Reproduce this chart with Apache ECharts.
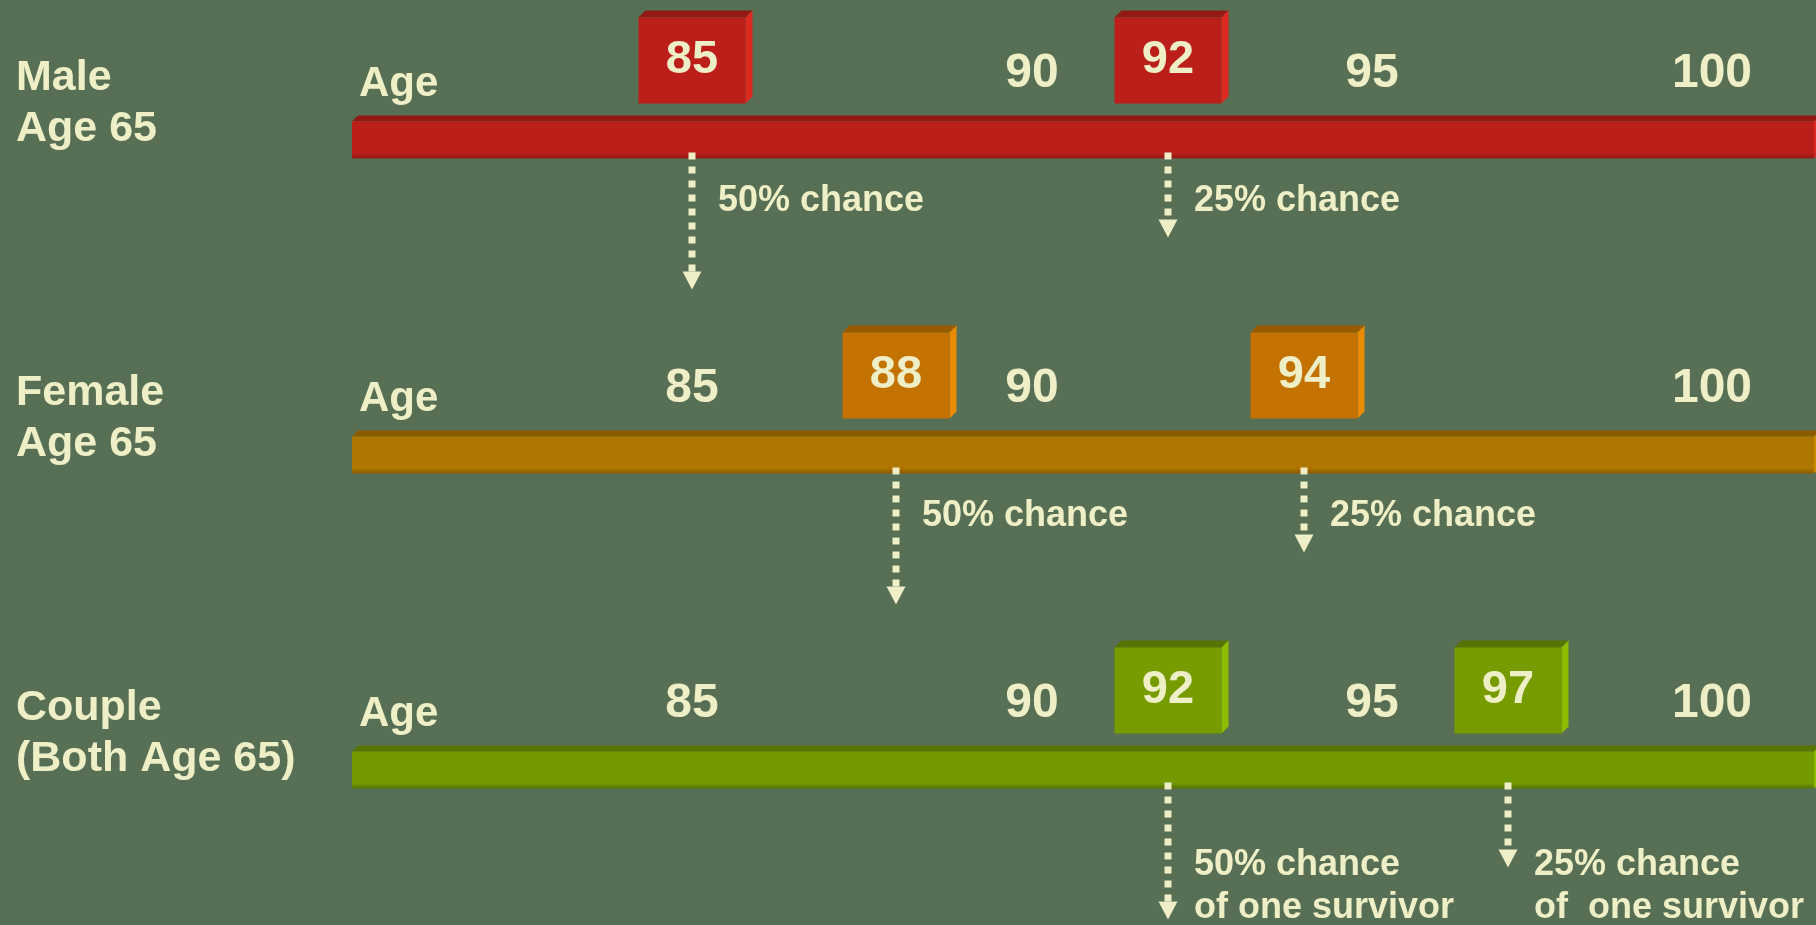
<!DOCTYPE html>
<html>
<head>
<meta charset="utf-8">
<title>Life expectancy at age 65</title>
<script src="https://cdn.jsdelivr.net/npm/echarts@6/dist/echarts.min.js"></script>
<style>
  html, body { margin: 0; padding: 0; background: #576f55; }
  #chart { width: 1816px; height: 925px; }
</style>
</head>
<body>
<div id="chart"></div>
<script>
// Ages a 65-year-old can expect to reach, with 50% and 25% probability
const rowLabels = ['Male\nAge 65', 'Female\nAge 65', 'Couple\n(Both Age 65)'];
const timelineSpan = [80, 101.5];

// age labels printed above each timeline
const maleTicks = [90, 95, 100];
const femaleTicks = [85, 90, 100];
const coupleTicks = [85, 90, 95, 100];

// 50% (median) and 25% survival ages per row
const medianAge = [85, 88, 92];
const quartileAge = [92, 94, 97];
const medianNote = ['50% chance', '50% chance', '50% chance\nof one survivor'];
const quartileNote = ['25% chance', '25% chance', '25% chance\nof  one survivor'];

const FONT = '"Liberation Sans", Arial, Helvetica, sans-serif';
const CREAM = '#eeefc6';

// face colours for each row: timeline bar and age boxes
const palettes = [
  { barFront: '#bb1f1a', barTop: '#921a14', barSide: '#d8281f', boxFront: '#bc1f1a', boxTop: '#921a14', boxSide: '#dc2a20' },
  { barFront: '#b07700', barTop: '#8a5b00', barSide: '#c98a00', boxFront: '#c47300', boxTop: '#9a5b00', boxSide: '#e88b00' },
  { barFront: '#739b00', barTop: '#577400', barSide: '#8cbc00', boxFront: '#769c00', boxTop: '#567400', boxSide: '#8cbd00' }
];

const timelineData = rowLabels.map((_, row) => [timelineSpan[0], timelineSpan[1], row]);
const tickData = [maleTicks, femaleTicks, coupleTicks].flatMap((ticks, row) => ticks.map(age => [age, row]));
const medianData = medianAge.map((age, row) => [age, row]);
const quartileData = quartileAge.map((age, row) => [age, row]);

function textStyle(size, extra) {
  return Object.assign({ fill: CREAM, fontSize: size, fontWeight: 'bold', fontFamily: FONT }, extra);
}

// extruded timeline bar, its row caption and the "Age" caption at its start
function renderTimeline(params, api) {
  const row = api.value(2);
  const start = api.coord([api.value(0), row]);
  const x0 = start[0], yc = start[1];
  const x1 = api.coord([api.value(1), row])[0];
  const pal = palettes[row];
  const top = yc - 16, bot = yc + 21, d = 6;
  return {
    type: 'group',
    children: [
      { type: 'polygon', shape: { points: [[x0, top], [x0 + d, top - d], [x1 + d, top - d], [x1, top]] }, style: { fill: pal.barTop } },
      { type: 'polygon', shape: { points: [[x1, top], [x1 + d, top - d], [x1 + d, bot - d], [x1, bot]] }, style: { fill: pal.barSide } },
      {
        type: 'rect', shape: { x: x0, y: top, width: x1 - x0, height: bot - top },
        style: {
          fill: new echarts.graphic.LinearGradient(0, 0, 0, 1, [
            { offset: 0, color: pal.barFront }, { offset: 0.85, color: pal.barFront }, { offset: 1, color: pal.barTop }
          ])
        }
      },
      { type: 'text', x: x0 + 7, y: yc - 53, style: textStyle(42, { text: 'Age', align: 'left', verticalAlign: 'middle' }) },
      { type: 'text', x: 16, y: yc - 34, style: textStyle(43, { text: rowLabels[row], lineHeight: 51, align: 'left', verticalAlign: 'middle' }) }
    ]
  };
}

function renderTick(params, api) {
  const p = api.coord([api.value(0), api.value(1)]);
  return {
    type: 'text', x: p[0], y: p[1] - 64,
    style: textStyle(48, { text: String(api.value(0)), align: 'center', verticalAlign: 'middle' })
  };
}

// raised age box with a dotted arrow pointing down to its note
function markerRenderer(notes, tipDrop) {
  return function (params, api) {
    const age = api.value(0), row = api.value(1);
    const p = api.coord([age, row]);
    const x = p[0], yc = p[1];
    const pal = palettes[row];
    const w = 107, h = 86, d = 7;
    const bx = x - w / 2, by = yc - 120;
    const tip = yc + tipDrop;
    const note = notes[params.dataIndex];
    const twoLines = note.indexOf('\n') >= 0;
    return {
      type: 'group',
      children: [
        { type: 'line', shape: { x1: x, y1: yc + 15, x2: x, y2: tip - 17 }, style: { stroke: CREAM, lineWidth: 7, lineDash: [7, 7] } },
        { type: 'polygon', shape: { points: [[x - 9.5, tip - 18], [x + 9.5, tip - 18], [x, tip]] }, style: { fill: CREAM } },
        {
          type: 'text', x: x + 26, y: twoLines ? yc + 76 : yc + 64,
          style: textStyle(36, { text: note, lineHeight: 43, align: 'left', verticalAlign: twoLines ? 'top' : 'middle' })
        },
        { type: 'polygon', shape: { points: [[bx, by], [bx + d, by - d], [bx + w + d, by - d], [bx + w, by]] }, style: { fill: pal.boxTop } },
        { type: 'polygon', shape: { points: [[bx + w, by], [bx + w + d, by - d], [bx + w + d, by + h - d], [bx + w, by + h]] }, style: { fill: pal.boxSide } },
        { type: 'rect', shape: { x: bx, y: by, width: w, height: h }, style: { fill: pal.boxFront } },
        { type: 'text', x: x, y: by + h / 2, style: textStyle(47, { text: String(age), align: 'center', verticalAlign: 'middle' }) }
      ]
    };
  };
}

const chart = echarts.init(document.getElementById('chart'), null, { renderer: 'canvas' });
chart.setOption({
  backgroundColor: '#576f55',
  animation: false,
  grid: { left: 352, right: 2, top: -20, bottom: 0, containLabel: false, outerBoundsMode: 'none' },
  xAxis: { type: 'value', min: timelineSpan[0], max: timelineSpan[1], show: false },
  yAxis: {
    type: 'category', data: rowLabels, inverse: true, show: false
  },
  series: [
    { type: 'custom', name: 'timeline', data: timelineData, encode: { x: [0, 1], y: 2 }, renderItem: renderTimeline, z: 1 },
    { type: 'custom', name: 'ages', data: tickData, encode: { x: 0, y: 1 }, renderItem: renderTick, z: 2 },
    { type: 'custom', name: '25% chance', data: quartileData, encode: { x: 0, y: 1 }, renderItem: markerRenderer(quartileNote, 100), z: 3 },
    { type: 'custom', name: '50% chance', data: medianData, encode: { x: 0, y: 1 }, renderItem: markerRenderer(medianNote, 152), z: 3 }
  ]
});
</script>
</body>
</html>
